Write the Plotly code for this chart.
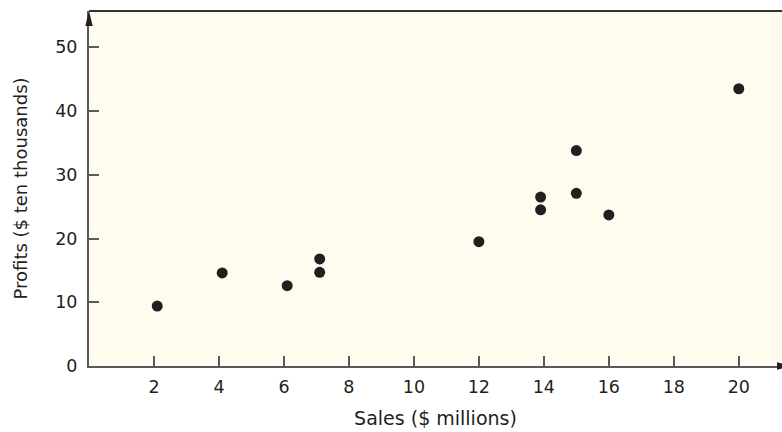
import plotly.graph_objects as go

sales = [2.1, 4.1, 6.1, 7.1, 7.1, 12.0, 13.9, 13.9, 15.0, 15.0, 16.0, 20.0]
profits = [9.4, 14.6, 12.6, 16.8, 14.7, 19.5, 26.5, 24.5, 33.8, 27.1, 23.7, 43.5]

x_ticks = [2, 4, 6, 8, 10, 12, 14, 16, 18, 20]
y_ticks = [0, 10, 20, 30, 40, 50]
x_title = "Sales ($ millions)"
y_title = "Profits ($ ten thousands)"

XMAX = 21.33
YMAX = 55.7
axis_col = "#58595b"
font_col = "#231f20"
FONT = "DejaVu Sans, Arial, sans-serif"

fig = go.Figure()
fig.add_trace(go.Scatter(
    x=sales, y=profits, mode="markers",
    marker=dict(size=11, color="#231f20", line=dict(width=0)),
    hoverinfo="x+y", showlegend=False, cliponaxis=False,
))

fig.update_layout(
    width=782, height=432, autosize=False,
    margin=dict(l=89, r=0, t=11, b=66, pad=0),
    paper_bgcolor="white",
    plot_bgcolor="#fffcef",
    font=dict(family=FONT, size=18, color=font_col),
    xaxis=dict(
        range=[0, XMAX], tickvals=x_ticks, ticktext=[str(v) for v in x_ticks],
        ticks="inside", ticklen=10, tickwidth=2, tickcolor=axis_col,
        showline=True, linecolor=axis_col, linewidth=2,
        showgrid=False, zeroline=False, automargin=False,
        title=dict(text=x_title, standoff=16, font=dict(size=19)),
        tickfont=dict(size=17.5, color=font_col),
        ticklabelstandoff=4,
    ),
    yaxis=dict(
        range=[0, YMAX], tickvals=y_ticks, ticktext=[str(v) for v in y_ticks],
        ticks="inside", ticklen=10, tickwidth=2, tickcolor=axis_col,
        showline=True, linecolor=axis_col, linewidth=2,
        showgrid=False, zeroline=False, automargin=False,
        title=dict(text=y_title, standoff=23, font=dict(size=18)),
        tickfont=dict(size=17.5, color=font_col),
        ticklabelstandoff=6,
    ),
)

# top border line
fig.add_shape(type="line", xref="paper", yref="paper", x0=0, x1=1, y0=1, y1=1,
              line=dict(color="#333333", width=2), layer="above")

# axis arrowheads (pixel-sized, anchored at axis ends)
fig.add_shape(type="path", xref="paper", yref="paper",
              xsizemode="pixel", ysizemode="pixel", xanchor=0, yanchor=1,
              path="M0,0 L-3.7,-15 L3.7,-15 Z",
              fillcolor="#231f20", line=dict(width=0), layer="above")
fig.add_shape(type="path", xref="paper", yref="paper",
              xsizemode="pixel", ysizemode="pixel", xanchor=1, yanchor=0,
              path="M10,0 L-5,3.7 L-5,-3.7 Z",
              fillcolor="#231f20", line=dict(width=0), layer="above")

fig.write_html(
    "out.html",
    config={"displayModeBar": False},
    post_script="document.body.style.margin='0px';document.body.style.overflow='hidden';",
)
